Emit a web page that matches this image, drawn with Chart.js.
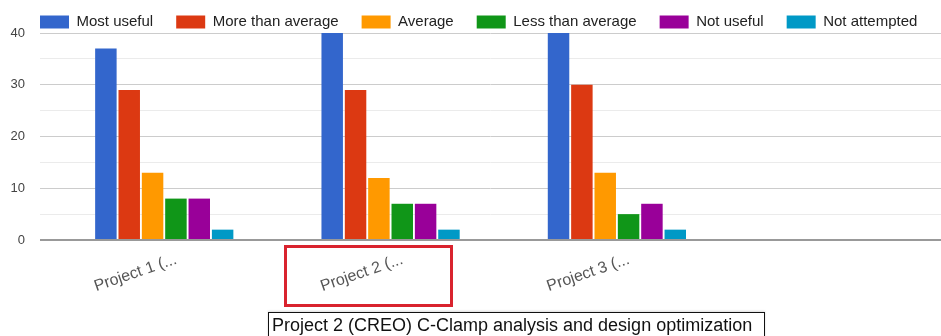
<!DOCTYPE html>
<html>
<head>
<meta charset="utf-8">
<script src="https://cdn.jsdelivr.net/npm/chart.js@4/dist/chart.umd.min.js"></script>
<style>
  html, body { margin: 0; padding: 0; background: #fff; overflow: hidden; }
  #wrap { position: relative; width: 941px; height: 336px; }
  #c { position: absolute; left: 0; top: 0; }
  #mark { position: absolute; left: 284px; top: 245px; width: 169px; height: 62px;
          border: 3px solid #d9232e; box-sizing: border-box; }
  #tip { position: absolute; left: 268px; top: 312px; width: 497px; height: 32px;
         border: 1px solid #111; box-sizing: border-box; background: #fff;
         font: 18px "Liberation Sans", Arial, sans-serif; color: #111;
         padding: 2px 0 0 3px; white-space: nowrap; box-shadow: 0 -1px 2px rgba(0,0,0,0.15); }
</style>
</head>
<body>
<div id="wrap">
  <canvas id="c" width="941" height="336"></canvas>
  <div id="mark"></div>
  <div id="tip">Project 2 (CREO) C-Clamp analysis and design optimization</div>
</div>
<script>
// ---- data ----
const categories = ["Project 1 (...", "Project 2 (...", "Project 3 (...", ""];
const seriesNames = ["Most useful", "More than average", "Average", "Less than average", "Not useful", "Not attempted"];
const mostUseful      = [37, 40, 40];
const moreThanAverage = [29, 29, 30];
const average         = [13, 12, 13];
const lessThanAverage = [8, 7, 5];
const notUseful       = [8, 7, 7];
const notAttempted    = [2, 2, 2];
const yTicks = [0, 10, 20, 30, 40];

const colors = ["#3366cc", "#dc3912", "#ff9900", "#109618", "#990099", "#0099c6"];
const seriesValues = [mostUseful, moreThanAverage, average, lessThanAverage, notUseful, notAttempted];

const datasets = seriesValues.map((vals, s) => ({
  label: seriesNames[s],
  data: vals.map((v, i) => ({ x: i, y: v })),
  backgroundColor: colors[s],
  borderWidth: 0,
  categoryPercentage: 0.619,
  barPercentage: 0.92
}));

const FONT = '"Liberation Sans", Arial, sans-serif';

// place the legend row where the reference has it
const legendPlace = {
  id: 'legendPlace',
  beforeDraw(chart) {
    if (chart.legend) { chart.legend.left = 17; chart.legend.top = -8.5; }
  }
};

new Chart(document.getElementById('c'), {
  type: 'bar',
  data: { datasets },
  plugins: [legendPlace],
  options: {
    responsive: false,
    animation: false,
    events: [],
    layout: { padding: { left: 0, right: 0, top: -15, bottom: 0 } },
    plugins: {
      tooltip: { enabled: false },
      legend: {
        position: 'top',
        align: 'start',
        labels: {
          boxWidth: 29, boxHeight: 13, padding: 23,
          color: '#222',
          font: { family: FONT, size: 15 }
        }
      }
    },
    scales: {
      x: {
        type: 'linear',
        offset: false,
        min: -0.549,
        max: 3.432,
        grid: { display: false },
        border: { display: false },
        afterFit: (s) => { s.height = 96; },
        ticks: {
          stepSize: 1,
          includeBounds: false,
          autoSkip: false,
          minRotation: 19,
          maxRotation: 19,
          padding: 2,
          labelOffset: 12,
          color: '#555',
          font: { family: FONT, size: 16 },
          callback: (v) => (Number.isInteger(v) && categories[v] !== undefined) ? categories[v] : ''
        }
      },
      y: {
        min: 0,
        max: 40,
        afterFit: (s) => { s.width = 40; },
        border: { display: false },
        grid: {
          drawTicks: false,
          color: (ctx) => ctx.tick.value === 0 ? '#999' : (ctx.tick.value % 10 === 0 ? '#cccccc' : '#ebebeb'),
          lineWidth: (ctx) => ctx.tick.value === 0 ? 2 : 1
        },
        ticks: {
          stepSize: 5,
          padding: 15,
          color: '#444',
          font: { family: FONT, size: 13 },
          callback: (v) => yTicks.includes(v) ? String(v) : ''
        }
      }
    }
  }
});
</script>
</body>
</html>
